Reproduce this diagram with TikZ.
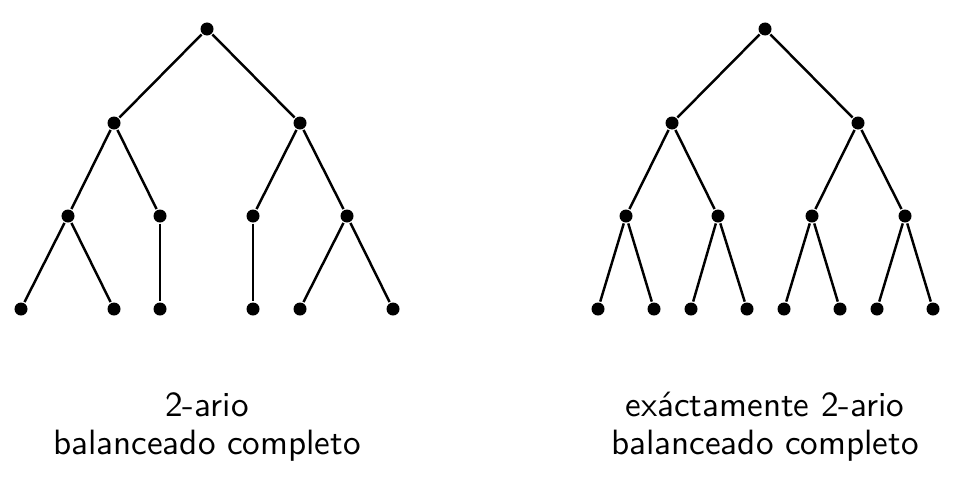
\documentclass[tikz,border=0pt]{standalone}
\usetikzlibrary{positioning}

\tikzset{
  vtx/.style={circle, fill, inner sep=0pt, minimum size=3.7pt},
  caption/.style={align=center, font=\sffamily\fontsize{10}{10.8}\selectfont}
}

\begin{document}
\begin{tikzpicture}[line width=0.7pt]

\useasboundingbox (0,0) rectangle (9.56,4.96);

\def\ya{4.67}
\def\yb{3.73}
\def\yc{2.80}
\def\yd{1.87}

% left tree
\node[vtx] (l) at (2.07,\ya) {};
\foreach \name/\x in {l0/1.14, l1/3.00} {
    \node[vtx] (\name) at (\x,\yb) {};
  }
\foreach \name/\x in {l00/0.68, l01/1.60, l10/2.53, l11/3.47} {
    \node[vtx] (\name) at (\x,\yc) {};
  }
\foreach \name/\x in {l000/0.21, l001/1.14, l010/1.60, l100/2.53, l110/3.00, l111/3.93} {
    \node[vtx] (\name) at (\x,\yd) {};
  }

\foreach \a/\b in {l/l0, l/l1, l0/l00, l0/l01, l1/l10, l1/l11,
                   l00/l000, l00/l001, l01/l010, l10/l100, l11/l110, l11/l111} {
    \draw (\a) -- (\b);
  }

% right tree
\node[vtx] (r) at (7.65,\ya) {};
\foreach \name/\x in {r0/6.72, r1/8.58} {
    \node[vtx] (\name) at (\x,\yb) {};
  }
\foreach \name/\x in {r00/6.26, r01/7.18, r10/8.12, r11/9.05} {
    \node[vtx] (\name) at (\x,\yc) {};
  }
\foreach \name/\x in {r000/5.98, r001/6.54, r010/6.91, r011/7.47,
                      r100/7.84, r101/8.40, r110/8.77, r111/9.33} {
    \node[vtx] (\name) at (\x,\yd) {};
  }

\foreach \p in {r, r0, r1} {
    \draw (\p) -- (\p0);
    \draw (\p) -- (\p1);
  }
\foreach \p in {r00, r01, r10, r11} {
    \draw (\p) -- (\p0);
    \draw (\p) -- (\p1);
  }

% captions
\node[caption] (capl) at (2.07,0.69) {2-ario\\balanceado completo};
\node[caption] (capr) at (7.65,0.69) {ex\'actamente 2-ario\\balanceado completo};

\end{tikzpicture}
\end{document}
